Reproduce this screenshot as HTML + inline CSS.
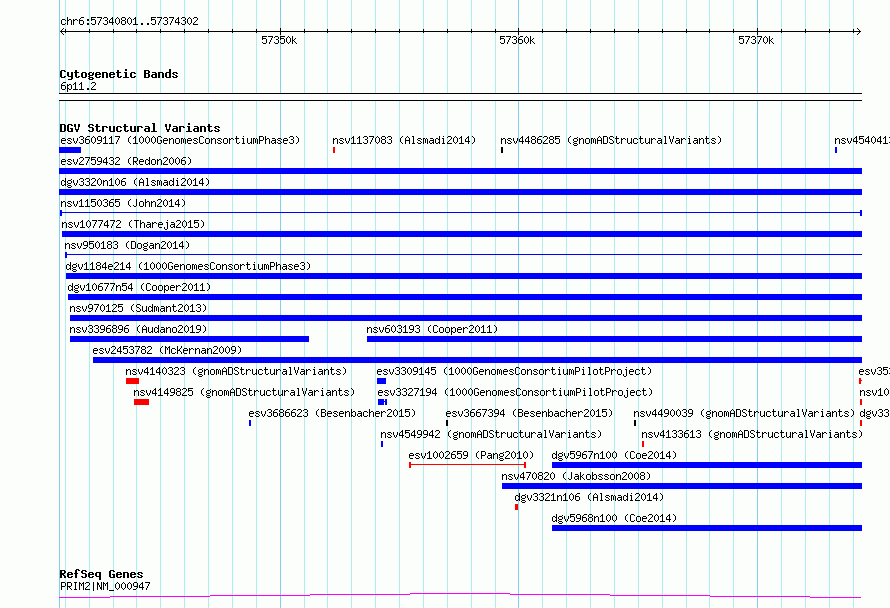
<!DOCTYPE html>
<html lang="en">
<head>
<meta charset="utf-8">
<title>chr6:57340801..57374302</title>
<style>
html,body{margin:0;padding:0;background:#fcfefb;overflow:hidden}
body{width:890px;height:608px;font-family:"Liberation Mono",monospace}
svg{display:block;position:absolute;left:0;top:0}
svg text{font-family:"Liberation Mono",monospace;fill:#000;fill-opacity:0;white-space:pre}
</style>
</head>
<body>
<svg role="img" aria-label="Genome browser view of chr6:57340801..57374302" width="890" height="608" viewBox="0 0 890 608" shape-rendering="crispEdges">
<defs>
<path id="s40" d="M3 3h1v1h-1zM2 4h1v1h-1zM1 5h1v1h-1zM1 6h1v1h-1zM1 7h1v1h-1zM1 8h1v1h-1zM2 9h1v1h-1zM3 10h1v1h-1z"/>
<path id="s41" d="M1 3h1v1h-1zM2 4h1v1h-1zM3 5h1v1h-1zM3 6h1v1h-1zM3 7h1v1h-1zM3 8h1v1h-1zM2 9h1v1h-1zM1 10h1v1h-1z"/>
<path id="s46" d="M2 9h2v1h-2zM2 10h2v1h-2z"/>
<path id="s48" d="M2 3h1v1h-1zM1 4h1v1h-1zM3 4h1v1h-1zM0 5h1v1h-1zM4 5h1v1h-1zM0 6h1v1h-1zM4 6h1v1h-1zM0 7h1v1h-1zM4 7h1v1h-1zM0 8h1v1h-1zM4 8h1v1h-1zM1 9h1v1h-1zM3 9h1v1h-1zM2 10h1v1h-1z"/>
<path id="s49" d="M2 3h1v1h-1zM1 4h2v1h-2zM0 5h1v1h-1zM2 5h1v1h-1zM2 6h1v1h-1zM2 7h1v1h-1zM2 8h1v1h-1zM2 9h1v1h-1zM0 10h5v1h-5z"/>
<path id="s50" d="M1 3h3v1h-3zM0 4h1v1h-1zM4 4h1v1h-1zM4 5h1v1h-1zM3 6h1v1h-1zM2 7h1v1h-1zM1 8h1v1h-1zM0 9h1v1h-1zM0 10h5v1h-5z"/>
<path id="s51" d="M1 3h3v1h-3zM0 4h1v1h-1zM4 4h1v1h-1zM4 5h1v1h-1zM2 6h2v1h-2zM4 7h1v1h-1zM4 8h1v1h-1zM0 9h1v1h-1zM4 9h1v1h-1zM1 10h3v1h-3z"/>
<path id="s52" d="M3 3h1v1h-1zM2 4h2v1h-2zM1 5h1v1h-1zM3 5h1v1h-1zM0 6h1v1h-1zM3 6h1v1h-1zM0 7h1v1h-1zM3 7h1v1h-1zM0 8h5v1h-5zM3 9h1v1h-1zM3 10h1v1h-1z"/>
<path id="s53" d="M0 3h5v1h-5zM0 4h1v1h-1zM0 5h4v1h-4zM0 6h1v1h-1zM4 6h1v1h-1zM4 7h1v1h-1zM4 8h1v1h-1zM0 9h1v1h-1zM4 9h1v1h-1zM1 10h3v1h-3z"/>
<path id="s54" d="M2 3h3v1h-3zM1 4h1v1h-1zM0 5h1v1h-1zM0 6h4v1h-4zM0 7h1v1h-1zM4 7h1v1h-1zM0 8h1v1h-1zM4 8h1v1h-1zM0 9h1v1h-1zM4 9h1v1h-1zM1 10h3v1h-3z"/>
<path id="s55" d="M0 3h5v1h-5zM4 4h1v1h-1zM3 5h1v1h-1zM3 6h1v1h-1zM2 7h1v1h-1zM2 8h1v1h-1zM1 9h1v1h-1zM1 10h1v1h-1z"/>
<path id="s56" d="M1 3h3v1h-3zM0 4h1v1h-1zM4 4h1v1h-1zM0 5h1v1h-1zM4 5h1v1h-1zM1 6h3v1h-3zM0 7h1v1h-1zM4 7h1v1h-1zM0 8h1v1h-1zM4 8h1v1h-1zM0 9h1v1h-1zM4 9h1v1h-1zM1 10h3v1h-3z"/>
<path id="s57" d="M1 3h3v1h-3zM0 4h1v1h-1zM4 4h1v1h-1zM0 5h1v1h-1zM4 5h1v1h-1zM0 6h1v1h-1zM4 6h1v1h-1zM1 7h4v1h-4zM4 8h1v1h-1zM3 9h1v1h-1zM0 10h3v1h-3z"/>
<path id="s58" d="M2 5h2v1h-2zM2 6h2v1h-2zM2 9h2v1h-2zM2 10h2v1h-2z"/>
<path id="s65" d="M2 3h1v1h-1zM1 4h1v1h-1zM3 4h1v1h-1zM0 5h1v1h-1zM4 5h1v1h-1zM0 6h1v1h-1zM4 6h1v1h-1zM0 7h5v1h-5zM0 8h1v1h-1zM4 8h1v1h-1zM0 9h1v1h-1zM4 9h1v1h-1zM0 10h1v1h-1zM4 10h1v1h-1z"/>
<path id="s66" d="M0 3h4v1h-4zM0 4h1v1h-1zM4 4h1v1h-1zM0 5h1v1h-1zM4 5h1v1h-1zM0 6h4v1h-4zM0 7h1v1h-1zM4 7h1v1h-1zM0 8h1v1h-1zM4 8h1v1h-1zM0 9h1v1h-1zM4 9h1v1h-1zM0 10h4v1h-4z"/>
<path id="s67" d="M1 3h3v1h-3zM0 4h1v1h-1zM4 4h1v1h-1zM0 5h1v1h-1zM0 6h1v1h-1zM0 7h1v1h-1zM0 8h1v1h-1zM0 9h1v1h-1zM4 9h1v1h-1zM1 10h3v1h-3z"/>
<path id="s68" d="M0 3h4v1h-4zM0 4h1v1h-1zM4 4h1v1h-1zM0 5h1v1h-1zM4 5h1v1h-1zM0 6h1v1h-1zM4 6h1v1h-1zM0 7h1v1h-1zM4 7h1v1h-1zM0 8h1v1h-1zM4 8h1v1h-1zM0 9h1v1h-1zM4 9h1v1h-1zM0 10h4v1h-4z"/>
<path id="s71" d="M1 3h3v1h-3zM0 4h1v1h-1zM4 4h1v1h-1zM0 5h1v1h-1zM0 6h1v1h-1zM0 7h1v1h-1zM3 7h2v1h-2zM0 8h1v1h-1zM4 8h1v1h-1zM0 9h1v1h-1zM4 9h1v1h-1zM1 10h3v1h-3z"/>
<path id="s73" d="M1 3h3v1h-3zM2 4h1v1h-1zM2 5h1v1h-1zM2 6h1v1h-1zM2 7h1v1h-1zM2 8h1v1h-1zM2 9h1v1h-1zM1 10h3v1h-3z"/>
<path id="s74" d="M3 3h1v1h-1zM3 4h1v1h-1zM3 5h1v1h-1zM3 6h1v1h-1zM3 7h1v1h-1zM3 8h1v1h-1zM0 9h1v1h-1zM3 9h1v1h-1zM1 10h2v1h-2z"/>
<path id="s75" d="M0 3h1v1h-1zM4 3h1v1h-1zM0 4h1v1h-1zM4 4h1v1h-1zM0 5h1v1h-1zM3 5h1v1h-1zM0 6h1v1h-1zM2 6h1v1h-1zM0 7h3v1h-3zM0 8h1v1h-1zM3 8h1v1h-1zM0 9h1v1h-1zM4 9h1v1h-1zM0 10h1v1h-1zM4 10h1v1h-1z"/>
<path id="s77" d="M0 3h1v1h-1zM4 3h1v1h-1zM0 4h2v1h-2zM3 4h2v1h-2zM0 5h1v1h-1zM2 5h1v1h-1zM4 5h1v1h-1zM0 6h1v1h-1zM2 6h1v1h-1zM4 6h1v1h-1zM0 7h1v1h-1zM4 7h1v1h-1zM0 8h1v1h-1zM4 8h1v1h-1zM0 9h1v1h-1zM4 9h1v1h-1zM0 10h1v1h-1zM4 10h1v1h-1z"/>
<path id="s78" d="M0 3h1v1h-1zM4 3h1v1h-1zM0 4h2v1h-2zM4 4h1v1h-1zM0 5h2v1h-2zM4 5h1v1h-1zM0 6h1v1h-1zM2 6h1v1h-1zM4 6h1v1h-1zM0 7h1v1h-1zM2 7h1v1h-1zM4 7h1v1h-1zM0 8h1v1h-1zM3 8h2v1h-2zM0 9h1v1h-1zM3 9h2v1h-2zM0 10h1v1h-1zM4 10h1v1h-1z"/>
<path id="s80" d="M0 3h4v1h-4zM0 4h1v1h-1zM4 4h1v1h-1zM0 5h1v1h-1zM4 5h1v1h-1zM0 6h1v1h-1zM4 6h1v1h-1zM0 7h4v1h-4zM0 8h1v1h-1zM0 9h1v1h-1zM0 10h1v1h-1z"/>
<path id="s82" d="M0 3h4v1h-4zM0 4h1v1h-1zM4 4h1v1h-1zM0 5h1v1h-1zM4 5h1v1h-1zM0 6h1v1h-1zM4 6h1v1h-1zM0 7h4v1h-4zM0 8h1v1h-1zM2 8h1v1h-1zM0 9h1v1h-1zM3 9h1v1h-1zM0 10h1v1h-1zM4 10h1v1h-1z"/>
<path id="s83" d="M1 3h3v1h-3zM0 4h1v1h-1zM4 4h1v1h-1zM0 5h1v1h-1zM1 6h2v1h-2zM3 7h1v1h-1zM4 8h1v1h-1zM0 9h1v1h-1zM4 9h1v1h-1zM1 10h3v1h-3z"/>
<path id="s84" d="M0 3h5v1h-5zM2 4h1v1h-1zM2 5h1v1h-1zM2 6h1v1h-1zM2 7h1v1h-1zM2 8h1v1h-1zM2 9h1v1h-1zM2 10h1v1h-1z"/>
<path id="s86" d="M0 3h1v1h-1zM4 3h1v1h-1zM0 4h1v1h-1zM4 4h1v1h-1zM0 5h1v1h-1zM4 5h1v1h-1zM1 6h1v1h-1zM3 6h1v1h-1zM1 7h1v1h-1zM3 7h1v1h-1zM1 8h1v1h-1zM3 8h1v1h-1zM2 9h1v1h-1zM2 10h1v1h-1z"/>
<path id="s95" d="M0 11h5v1h-5z"/>
<path id="s97" d="M1 5h3v1h-3zM4 6h1v1h-1zM1 7h4v1h-4zM0 8h1v1h-1zM4 8h1v1h-1zM0 9h1v1h-1zM3 9h2v1h-2zM1 10h2v1h-2zM4 10h1v1h-1z"/>
<path id="s98" d="M0 3h1v1h-1zM0 4h1v1h-1zM0 5h1v1h-1zM2 5h2v1h-2zM0 6h2v1h-2zM4 6h1v1h-1zM0 7h1v1h-1zM4 7h1v1h-1zM0 8h1v1h-1zM4 8h1v1h-1zM0 9h2v1h-2zM4 9h1v1h-1zM0 10h1v1h-1zM2 10h2v1h-2z"/>
<path id="s99" d="M1 5h3v1h-3zM0 6h1v1h-1zM4 6h1v1h-1zM0 7h1v1h-1zM0 8h1v1h-1zM0 9h1v1h-1zM4 9h1v1h-1zM1 10h3v1h-3z"/>
<path id="s100" d="M4 3h1v1h-1zM4 4h1v1h-1zM1 5h2v1h-2zM4 5h1v1h-1zM0 6h1v1h-1zM3 6h2v1h-2zM0 7h1v1h-1zM4 7h1v1h-1zM0 8h1v1h-1zM4 8h1v1h-1zM0 9h1v1h-1zM3 9h2v1h-2zM1 10h2v1h-2zM4 10h1v1h-1z"/>
<path id="s101" d="M1 5h3v1h-3zM0 6h1v1h-1zM4 6h1v1h-1zM0 7h5v1h-5zM0 8h1v1h-1zM0 9h1v1h-1zM1 10h3v1h-3z"/>
<path id="s103" d="M4 4h1v1h-1zM1 5h3v1h-3zM0 6h1v1h-1zM4 6h1v1h-1zM0 7h1v1h-1zM4 7h1v1h-1zM1 8h3v1h-3zM0 9h1v1h-1zM1 10h3v1h-3zM0 11h1v1h-1zM4 11h1v1h-1zM1 12h3v1h-3z"/>
<path id="s104" d="M0 3h1v1h-1zM0 4h1v1h-1zM0 5h1v1h-1zM2 5h2v1h-2zM0 6h2v1h-2zM4 6h1v1h-1zM0 7h1v1h-1zM4 7h1v1h-1zM0 8h1v1h-1zM4 8h1v1h-1zM0 9h1v1h-1zM4 9h1v1h-1zM0 10h1v1h-1zM4 10h1v1h-1z"/>
<path id="s105" d="M2 3h1v1h-1zM1 5h2v1h-2zM2 6h1v1h-1zM2 7h1v1h-1zM2 8h1v1h-1zM2 9h1v1h-1zM1 10h3v1h-3z"/>
<path id="s106" d="M3 3h1v1h-1zM2 5h2v1h-2zM3 6h1v1h-1zM3 7h1v1h-1zM3 8h1v1h-1zM3 9h1v1h-1zM0 10h1v1h-1zM3 10h1v1h-1zM0 11h1v1h-1zM3 11h1v1h-1zM1 12h2v1h-2z"/>
<path id="s107" d="M0 3h1v1h-1zM0 4h1v1h-1zM0 5h1v1h-1zM3 5h1v1h-1zM0 6h1v1h-1zM2 6h1v1h-1zM0 7h2v1h-2zM0 8h1v1h-1zM2 8h1v1h-1zM0 9h1v1h-1zM3 9h1v1h-1zM0 10h1v1h-1zM4 10h1v1h-1z"/>
<path id="s108" d="M1 3h2v1h-2zM2 4h1v1h-1zM2 5h1v1h-1zM2 6h1v1h-1zM2 7h1v1h-1zM2 8h1v1h-1zM2 9h1v1h-1zM1 10h3v1h-3z"/>
<path id="s109" d="M0 5h2v1h-2zM3 5h1v1h-1zM0 6h1v1h-1zM2 6h1v1h-1zM4 6h1v1h-1zM0 7h1v1h-1zM2 7h1v1h-1zM4 7h1v1h-1zM0 8h1v1h-1zM2 8h1v1h-1zM4 8h1v1h-1zM0 9h1v1h-1zM2 9h1v1h-1zM4 9h1v1h-1zM0 10h1v1h-1zM4 10h1v1h-1z"/>
<path id="s110" d="M0 5h1v1h-1zM2 5h2v1h-2zM0 6h2v1h-2zM4 6h1v1h-1zM0 7h1v1h-1zM4 7h1v1h-1zM0 8h1v1h-1zM4 8h1v1h-1zM0 9h1v1h-1zM4 9h1v1h-1zM0 10h1v1h-1zM4 10h1v1h-1z"/>
<path id="s111" d="M1 5h3v1h-3zM0 6h1v1h-1zM4 6h1v1h-1zM0 7h1v1h-1zM4 7h1v1h-1zM0 8h1v1h-1zM4 8h1v1h-1zM0 9h1v1h-1zM4 9h1v1h-1zM1 10h3v1h-3z"/>
<path id="s112" d="M0 5h1v1h-1zM2 5h2v1h-2zM0 6h2v1h-2zM4 6h1v1h-1zM0 7h1v1h-1zM4 7h1v1h-1zM0 8h1v1h-1zM4 8h1v1h-1zM0 9h2v1h-2zM4 9h1v1h-1zM0 10h1v1h-1zM2 10h2v1h-2zM0 11h1v1h-1zM0 12h1v1h-1z"/>
<path id="s114" d="M0 5h1v1h-1zM2 5h2v1h-2zM0 6h2v1h-2zM4 6h1v1h-1zM0 7h1v1h-1zM0 8h1v1h-1zM0 9h1v1h-1zM0 10h1v1h-1z"/>
<path id="s115" d="M1 5h3v1h-3zM0 6h1v1h-1zM4 6h1v1h-1zM1 7h2v1h-2zM3 8h1v1h-1zM0 9h1v1h-1zM4 9h1v1h-1zM1 10h3v1h-3z"/>
<path id="s116" d="M1 3h1v1h-1zM1 4h1v1h-1zM0 5h4v1h-4zM1 6h1v1h-1zM1 7h1v1h-1zM1 8h1v1h-1zM1 9h1v1h-1zM4 9h1v1h-1zM2 10h2v1h-2z"/>
<path id="s117" d="M0 5h1v1h-1zM4 5h1v1h-1zM0 6h1v1h-1zM4 6h1v1h-1zM0 7h1v1h-1zM4 7h1v1h-1zM0 8h1v1h-1zM4 8h1v1h-1zM0 9h1v1h-1zM3 9h2v1h-2zM1 10h2v1h-2zM4 10h1v1h-1z"/>
<path id="s118" d="M0 5h1v1h-1zM4 5h1v1h-1zM0 6h1v1h-1zM4 6h1v1h-1zM0 7h1v1h-1zM4 7h1v1h-1zM1 8h1v1h-1zM3 8h1v1h-1zM1 9h1v1h-1zM3 9h1v1h-1zM2 10h1v1h-1z"/>
<path id="s124" d="M2 3h1v1h-1zM2 4h1v1h-1zM2 5h1v1h-1zM2 6h1v1h-1zM2 7h1v1h-1zM2 8h1v1h-1zM2 9h1v1h-1zM2 10h1v1h-1zM2 11h1v1h-1z"/>
<path id="b66" d="M0 3h5v1h-5zM0 4h2v1h-2zM4 4h2v1h-2zM0 5h2v1h-2zM4 5h2v1h-2zM0 6h5v1h-5zM0 7h2v1h-2zM4 7h2v1h-2zM0 8h2v1h-2zM4 8h2v1h-2zM0 9h2v1h-2zM4 9h2v1h-2zM0 10h5v1h-5z"/>
<path id="b67" d="M1 3h4v1h-4zM0 4h2v1h-2zM4 4h2v1h-2zM0 5h2v1h-2zM0 6h2v1h-2zM0 7h2v1h-2zM0 8h2v1h-2zM0 9h2v1h-2zM4 9h2v1h-2zM1 10h4v1h-4z"/>
<path id="b68" d="M0 3h5v1h-5zM0 4h2v1h-2zM4 4h2v1h-2zM0 5h2v1h-2zM4 5h2v1h-2zM0 6h2v1h-2zM4 6h2v1h-2zM0 7h2v1h-2zM4 7h2v1h-2zM0 8h2v1h-2zM4 8h2v1h-2zM0 9h2v1h-2zM4 9h2v1h-2zM0 10h5v1h-5z"/>
<path id="b71" d="M1 3h4v1h-4zM0 4h2v1h-2zM4 4h2v1h-2zM0 5h2v1h-2zM0 6h2v1h-2zM0 7h2v1h-2zM3 7h3v1h-3zM0 8h2v1h-2zM4 8h2v1h-2zM0 9h2v1h-2zM4 9h2v1h-2zM1 10h5v1h-5z"/>
<path id="b82" d="M0 3h5v1h-5zM0 4h2v1h-2zM4 4h2v1h-2zM0 5h2v1h-2zM4 5h2v1h-2zM0 6h5v1h-5zM0 7h4v1h-4zM0 8h2v1h-2zM3 8h2v1h-2zM0 9h2v1h-2zM4 9h2v1h-2zM0 10h2v1h-2zM4 10h2v1h-2z"/>
<path id="b83" d="M1 3h4v1h-4zM0 4h2v1h-2zM4 4h2v1h-2zM0 5h2v1h-2zM1 6h4v1h-4zM4 7h2v1h-2zM4 8h2v1h-2zM0 9h2v1h-2zM4 9h2v1h-2zM1 10h4v1h-4z"/>
<path id="b86" d="M0 3h2v1h-2zM4 3h2v1h-2zM0 4h2v1h-2zM4 4h2v1h-2zM0 5h2v1h-2zM4 5h2v1h-2zM1 6h1v1h-1zM4 6h1v1h-1zM1 7h1v1h-1zM4 7h1v1h-1zM1 8h4v1h-4zM2 9h2v1h-2zM2 10h2v1h-2z"/>
<path id="b97" d="M1 5h4v1h-4zM4 6h2v1h-2zM1 7h5v1h-5zM0 8h2v1h-2zM4 8h2v1h-2zM0 9h2v1h-2zM4 9h2v1h-2zM1 10h5v1h-5z"/>
<path id="b99" d="M1 5h4v1h-4zM0 6h2v1h-2zM4 6h2v1h-2zM0 7h2v1h-2zM0 8h2v1h-2zM0 9h2v1h-2zM4 9h2v1h-2zM1 10h4v1h-4z"/>
<path id="b100" d="M4 2h2v1h-2zM4 3h2v1h-2zM4 4h2v1h-2zM1 5h5v1h-5zM0 6h2v1h-2zM4 6h2v1h-2zM0 7h2v1h-2zM4 7h2v1h-2zM0 8h2v1h-2zM4 8h2v1h-2zM0 9h2v1h-2zM4 9h2v1h-2zM1 10h5v1h-5z"/>
<path id="b101" d="M1 5h4v1h-4zM0 6h2v1h-2zM4 6h2v1h-2zM0 7h6v1h-6zM0 8h2v1h-2zM0 9h2v1h-2zM4 9h2v1h-2zM1 10h4v1h-4z"/>
<path id="b102" d="M2 2h3v1h-3zM1 3h2v1h-2zM4 3h2v1h-2zM1 4h2v1h-2zM1 5h2v1h-2zM0 6h4v1h-4zM1 7h2v1h-2zM1 8h2v1h-2zM1 9h2v1h-2zM1 10h2v1h-2z"/>
<path id="b103" d="M1 5h3v1h-3zM5 5h1v1h-1zM0 6h2v1h-2zM4 6h2v1h-2zM0 7h2v1h-2zM4 7h2v1h-2zM1 8h4v1h-4zM0 9h2v1h-2zM1 10h4v1h-4zM0 11h2v1h-2zM4 11h2v1h-2zM1 12h4v1h-4z"/>
<path id="b105" d="M2 2h2v1h-2zM2 3h2v1h-2zM1 5h3v1h-3zM2 6h2v1h-2zM2 7h2v1h-2zM2 8h2v1h-2zM2 9h2v1h-2zM0 10h6v1h-6z"/>
<path id="b108" d="M1 2h3v1h-3zM2 3h2v1h-2zM2 4h2v1h-2zM2 5h2v1h-2zM2 6h2v1h-2zM2 7h2v1h-2zM2 8h2v1h-2zM2 9h2v1h-2zM0 10h6v1h-6z"/>
<path id="b110" d="M0 5h5v1h-5zM0 6h2v1h-2zM4 6h2v1h-2zM0 7h2v1h-2zM4 7h2v1h-2zM0 8h2v1h-2zM4 8h2v1h-2zM0 9h2v1h-2zM4 9h2v1h-2zM0 10h2v1h-2zM4 10h2v1h-2z"/>
<path id="b111" d="M1 5h4v1h-4zM0 6h2v1h-2zM4 6h2v1h-2zM0 7h2v1h-2zM4 7h2v1h-2zM0 8h2v1h-2zM4 8h2v1h-2zM0 9h2v1h-2zM4 9h2v1h-2zM1 10h4v1h-4z"/>
<path id="b113" d="M1 5h5v1h-5zM0 6h2v1h-2zM4 6h2v1h-2zM0 7h2v1h-2zM4 7h2v1h-2zM0 8h2v1h-2zM4 8h2v1h-2zM1 9h5v1h-5zM4 10h2v1h-2zM4 11h2v1h-2zM4 12h2v1h-2z"/>
<path id="b114" d="M0 5h5v1h-5zM0 6h2v1h-2zM4 6h2v1h-2zM0 7h2v1h-2zM0 8h2v1h-2zM0 9h2v1h-2zM0 10h2v1h-2z"/>
<path id="b115" d="M1 5h4v1h-4zM0 6h2v1h-2zM4 6h2v1h-2zM1 7h2v1h-2zM3 8h2v1h-2zM0 9h2v1h-2zM4 9h2v1h-2zM1 10h4v1h-4z"/>
<path id="b116" d="M1 3h2v1h-2zM1 4h2v1h-2zM0 5h5v1h-5zM1 6h2v1h-2zM1 7h2v1h-2zM1 8h2v1h-2zM1 9h2v1h-2zM4 9h2v1h-2zM2 10h3v1h-3z"/>
<path id="b117" d="M0 5h2v1h-2zM4 5h2v1h-2zM0 6h2v1h-2zM4 6h2v1h-2zM0 7h2v1h-2zM4 7h2v1h-2zM0 8h2v1h-2zM4 8h2v1h-2zM0 9h2v1h-2zM4 9h2v1h-2zM1 10h5v1h-5z"/>
<path id="b121" d="M0 5h2v1h-2zM4 5h2v1h-2zM0 6h2v1h-2zM4 6h2v1h-2zM0 7h2v1h-2zM4 7h2v1h-2zM0 8h2v1h-2zM4 8h2v1h-2zM1 9h5v1h-5zM4 10h2v1h-2zM4 11h2v1h-2zM1 12h4v1h-4z"/>
</defs>
<rect x="0" y="0" width="890" height="608" fill="#fcfefb"/>
<g id="shapes">
<rect x="59" y="0" width="1" height="608" fill="#87ceeb"/>
<rect x="65" y="0" width="1" height="608" fill="#afeeee"/>
<rect x="89" y="0" width="1" height="608" fill="#afeeee"/>
<rect x="113" y="0" width="1" height="608" fill="#afeeee"/>
<rect x="136" y="0" width="1" height="608" fill="#afeeee"/>
<rect x="160" y="0" width="1" height="608" fill="#afeeee"/>
<rect x="184" y="0" width="1" height="608" fill="#afeeee"/>
<rect x="208" y="0" width="1" height="608" fill="#afeeee"/>
<rect x="232" y="0" width="1" height="608" fill="#afeeee"/>
<rect x="256" y="0" width="1" height="608" fill="#afeeee"/>
<rect x="280" y="0" width="1" height="608" fill="#87ceeb"/>
<rect x="304" y="0" width="1" height="608" fill="#afeeee"/>
<rect x="327" y="0" width="1" height="608" fill="#afeeee"/>
<rect x="351" y="0" width="1" height="608" fill="#afeeee"/>
<rect x="375" y="0" width="1" height="608" fill="#afeeee"/>
<rect x="399" y="0" width="1" height="608" fill="#afeeee"/>
<rect x="423" y="0" width="1" height="608" fill="#afeeee"/>
<rect x="447" y="0" width="1" height="608" fill="#afeeee"/>
<rect x="471" y="0" width="1" height="608" fill="#afeeee"/>
<rect x="495" y="0" width="1" height="608" fill="#afeeee"/>
<rect x="518" y="0" width="1" height="608" fill="#87ceeb"/>
<rect x="542" y="0" width="1" height="608" fill="#afeeee"/>
<rect x="566" y="0" width="1" height="608" fill="#afeeee"/>
<rect x="590" y="0" width="1" height="608" fill="#afeeee"/>
<rect x="614" y="0" width="1" height="608" fill="#afeeee"/>
<rect x="638" y="0" width="1" height="608" fill="#afeeee"/>
<rect x="662" y="0" width="1" height="608" fill="#afeeee"/>
<rect x="686" y="0" width="1" height="608" fill="#afeeee"/>
<rect x="709" y="0" width="1" height="608" fill="#afeeee"/>
<rect x="733" y="0" width="1" height="608" fill="#afeeee"/>
<rect x="757" y="0" width="1" height="608" fill="#87ceeb"/>
<rect x="781" y="0" width="1" height="608" fill="#afeeee"/>
<rect x="805" y="0" width="1" height="608" fill="#afeeee"/>
<rect x="829" y="0" width="1" height="608" fill="#afeeee"/>
<rect x="853" y="0" width="1" height="608" fill="#afeeee"/>
<rect x="60" y="31" width="801" height="1" fill="#000000"/>
<rect x="61" y="30" width="1" height="1" fill="#000000"/>
<rect x="61" y="32" width="1" height="1" fill="#000000"/>
<rect x="859" y="30" width="1" height="1" fill="#000000"/>
<rect x="859" y="32" width="1" height="1" fill="#000000"/>
<rect x="62" y="29" width="1" height="1" fill="#000000"/>
<rect x="62" y="33" width="1" height="1" fill="#000000"/>
<rect x="858" y="29" width="1" height="1" fill="#000000"/>
<rect x="858" y="33" width="1" height="1" fill="#000000"/>
<rect x="63" y="28" width="1" height="1" fill="#000000"/>
<rect x="63" y="34" width="1" height="1" fill="#000000"/>
<rect x="857" y="28" width="1" height="1" fill="#000000"/>
<rect x="857" y="34" width="1" height="1" fill="#000000"/>
<rect x="65" y="29" width="1" height="4" fill="#000000"/>
<rect x="89" y="29" width="1" height="4" fill="#000000"/>
<rect x="113" y="29" width="1" height="4" fill="#000000"/>
<rect x="136" y="29" width="1" height="4" fill="#000000"/>
<rect x="160" y="29" width="1" height="4" fill="#000000"/>
<rect x="184" y="29" width="1" height="4" fill="#000000"/>
<rect x="208" y="29" width="1" height="4" fill="#000000"/>
<rect x="232" y="29" width="1" height="4" fill="#000000"/>
<rect x="256" y="29" width="1" height="4" fill="#000000"/>
<rect x="280" y="28" width="1" height="7" fill="#000000"/>
<rect x="304" y="29" width="1" height="4" fill="#000000"/>
<rect x="327" y="29" width="1" height="4" fill="#000000"/>
<rect x="351" y="29" width="1" height="4" fill="#000000"/>
<rect x="375" y="29" width="1" height="4" fill="#000000"/>
<rect x="399" y="29" width="1" height="4" fill="#000000"/>
<rect x="423" y="29" width="1" height="4" fill="#000000"/>
<rect x="447" y="29" width="1" height="4" fill="#000000"/>
<rect x="471" y="29" width="1" height="4" fill="#000000"/>
<rect x="495" y="29" width="1" height="4" fill="#000000"/>
<rect x="518" y="28" width="1" height="7" fill="#000000"/>
<rect x="542" y="29" width="1" height="4" fill="#000000"/>
<rect x="566" y="29" width="1" height="4" fill="#000000"/>
<rect x="590" y="29" width="1" height="4" fill="#000000"/>
<rect x="614" y="29" width="1" height="4" fill="#000000"/>
<rect x="638" y="29" width="1" height="4" fill="#000000"/>
<rect x="662" y="29" width="1" height="4" fill="#000000"/>
<rect x="686" y="29" width="1" height="4" fill="#000000"/>
<rect x="709" y="29" width="1" height="4" fill="#000000"/>
<rect x="733" y="29" width="1" height="4" fill="#000000"/>
<rect x="757" y="28" width="1" height="7" fill="#000000"/>
<rect x="781" y="29" width="1" height="4" fill="#000000"/>
<rect x="805" y="29" width="1" height="4" fill="#000000"/>
<rect x="829" y="29" width="1" height="4" fill="#000000"/>
<rect x="853" y="29" width="1" height="4" fill="#000000"/>
<rect x="59" y="93" width="803" height="8" fill="#000000"/>
<rect x="59" y="94" width="803" height="6" fill="#ffffff"/>
<rect x="59" y="147" width="22" height="6" fill="#0000ff"/>
<rect x="333" y="147" width="2" height="6" fill="#ff0000"/>
<rect x="501" y="147" width="2" height="6" fill="#000000"/>
<rect x="835" y="147" width="2" height="6" fill="#0000ff"/>
<rect x="59" y="168" width="803" height="6" fill="#0000ff"/>
<rect x="59" y="189" width="803" height="6" fill="#0000ff"/>
<rect x="60" y="212" width="802" height="1" fill="#0000ff"/>
<rect x="60" y="210" width="2" height="6" fill="#0000ff"/>
<rect x="860" y="210" width="2" height="6" fill="#0000ff"/>
<rect x="62" y="231" width="800" height="6" fill="#0000ff"/>
<rect x="65" y="254" width="797" height="1" fill="#0000ff"/>
<rect x="65" y="252" width="2" height="6" fill="#0000ff"/>
<rect x="66" y="273" width="796" height="6" fill="#0000ff"/>
<rect x="68" y="294" width="794" height="6" fill="#0000ff"/>
<rect x="70" y="315" width="792" height="6" fill="#0000ff"/>
<rect x="70" y="336" width="239" height="6" fill="#0000ff"/>
<rect x="367" y="336" width="495" height="6" fill="#0000ff"/>
<rect x="93" y="357" width="769" height="6" fill="#0000ff"/>
<rect x="126" y="378" width="13" height="6" fill="#ff0000"/>
<rect x="377" y="378" width="9" height="6" fill="#0000ff"/>
<rect x="859" y="380" width="3" height="1" fill="#ff0000"/>
<rect x="859" y="378" width="2" height="6" fill="#ff0000"/>
<rect x="134" y="399" width="15" height="6" fill="#ff0000"/>
<rect x="378" y="399" width="6" height="6" fill="#0000ff"/>
<rect x="385" y="399" width="2" height="6" fill="#0000ff"/>
<rect x="384" y="401" width="1" height="1" fill="#0000ff"/>
<rect x="860" y="399" width="2" height="6" fill="#ff0000"/>
<rect x="249" y="420" width="2" height="6" fill="#0000ff"/>
<rect x="446" y="420" width="2" height="6" fill="#000000"/>
<rect x="634" y="420" width="2" height="6" fill="#000000"/>
<rect x="860" y="420" width="2" height="6" fill="#ff0000"/>
<rect x="381" y="441" width="2" height="6" fill="#0000ff"/>
<rect x="642" y="441" width="2" height="6" fill="#ff0000"/>
<rect x="409" y="464" width="117" height="1" fill="#ff0000"/>
<rect x="409" y="462" width="2" height="6" fill="#ff0000"/>
<rect x="524" y="462" width="2" height="6" fill="#ff0000"/>
<rect x="552" y="462" width="310" height="6" fill="#0000ff"/>
<rect x="502" y="483" width="360" height="6" fill="#0000ff"/>
<rect x="515" y="504" width="3" height="6" fill="#ff0000"/>
<rect x="552" y="525" width="310" height="6" fill="#0000ff"/>
<rect x="59" y="597" width="51" height="1" fill="#ff00ff"/>
<rect x="110" y="596" width="100" height="1" fill="#ff00ff"/>
<rect x="210" y="595" width="100" height="1" fill="#ff00ff"/>
<rect x="310" y="594" width="100" height="1" fill="#ff00ff"/>
<rect x="410" y="593" width="100" height="1" fill="#ff00ff"/>
<rect x="510" y="594" width="100" height="1" fill="#ff00ff"/>
<rect x="610" y="595" width="100" height="1" fill="#ff00ff"/>
<rect x="710" y="596" width="100" height="1" fill="#ff00ff"/>
<rect x="810" y="597" width="51" height="1" fill="#ff00ff"/>
</g>
<g id="glyphs" fill="#000">
<g transform="translate(61 14)"><use href="#s99" x="0"/><use href="#s104" x="6"/><use href="#s114" x="12"/><use href="#s54" x="18"/><use href="#s58" x="24"/><use href="#s53" x="30"/><use href="#s55" x="36"/><use href="#s51" x="42"/><use href="#s52" x="48"/><use href="#s48" x="54"/><use href="#s56" x="60"/><use href="#s48" x="66"/><use href="#s49" x="72"/><use href="#s46" x="78"/><use href="#s46" x="84"/><use href="#s53" x="90"/><use href="#s55" x="96"/><use href="#s51" x="102"/><use href="#s55" x="108"/><use href="#s52" x="114"/><use href="#s51" x="120"/><use href="#s48" x="126"/><use href="#s50" x="132"/></g>
<g transform="translate(262 33)"><use href="#s53" x="0"/><use href="#s55" x="6"/><use href="#s51" x="12"/><use href="#s53" x="18"/><use href="#s48" x="24"/><use href="#s107" x="30"/></g>
<g transform="translate(500 33)"><use href="#s53" x="0"/><use href="#s55" x="6"/><use href="#s51" x="12"/><use href="#s54" x="18"/><use href="#s48" x="24"/><use href="#s107" x="30"/></g>
<g transform="translate(739 33)"><use href="#s53" x="0"/><use href="#s55" x="6"/><use href="#s51" x="12"/><use href="#s55" x="18"/><use href="#s48" x="24"/><use href="#s107" x="30"/></g>
<g transform="translate(60 67)"><use href="#b67" x="0"/><use href="#b121" x="7"/><use href="#b116" x="14"/><use href="#b111" x="21"/><use href="#b103" x="28"/><use href="#b101" x="35"/><use href="#b110" x="42"/><use href="#b101" x="49"/><use href="#b116" x="56"/><use href="#b105" x="63"/><use href="#b99" x="70"/><use href="#b66" x="84"/><use href="#b97" x="91"/><use href="#b110" x="98"/><use href="#b100" x="105"/><use href="#b115" x="112"/></g>
<g transform="translate(61 79)"><use href="#s54" x="0"/><use href="#s112" x="6"/><use href="#s49" x="12"/><use href="#s49" x="18"/><use href="#s46" x="24"/><use href="#s50" x="30"/></g>
<g transform="translate(60 121)"><use href="#b68" x="0"/><use href="#b71" x="7"/><use href="#b86" x="14"/><use href="#b83" x="28"/><use href="#b116" x="35"/><use href="#b114" x="42"/><use href="#b117" x="49"/><use href="#b99" x="56"/><use href="#b116" x="63"/><use href="#b117" x="70"/><use href="#b114" x="77"/><use href="#b97" x="84"/><use href="#b108" x="91"/><use href="#b86" x="105"/><use href="#b97" x="112"/><use href="#b114" x="119"/><use href="#b105" x="126"/><use href="#b97" x="133"/><use href="#b110" x="140"/><use href="#b116" x="147"/><use href="#b115" x="154"/></g>
<g transform="translate(61 133)"><use href="#s101" x="0"/><use href="#s115" x="6"/><use href="#s118" x="12"/><use href="#s51" x="18"/><use href="#s54" x="24"/><use href="#s48" x="30"/><use href="#s57" x="36"/><use href="#s49" x="42"/><use href="#s49" x="48"/><use href="#s55" x="54"/><use href="#s40" x="66"/><use href="#s49" x="72"/><use href="#s48" x="78"/><use href="#s48" x="84"/><use href="#s48" x="90"/><use href="#s71" x="96"/><use href="#s101" x="102"/><use href="#s110" x="108"/><use href="#s111" x="114"/><use href="#s109" x="120"/><use href="#s101" x="126"/><use href="#s115" x="132"/><use href="#s67" x="138"/><use href="#s111" x="144"/><use href="#s110" x="150"/><use href="#s115" x="156"/><use href="#s111" x="162"/><use href="#s114" x="168"/><use href="#s116" x="174"/><use href="#s105" x="180"/><use href="#s117" x="186"/><use href="#s109" x="192"/><use href="#s80" x="198"/><use href="#s104" x="204"/><use href="#s97" x="210"/><use href="#s115" x="216"/><use href="#s101" x="222"/><use href="#s51" x="228"/><use href="#s41" x="234"/></g>
<g transform="translate(333 133)"><use href="#s110" x="0"/><use href="#s115" x="6"/><use href="#s118" x="12"/><use href="#s49" x="18"/><use href="#s49" x="24"/><use href="#s51" x="30"/><use href="#s55" x="36"/><use href="#s48" x="42"/><use href="#s56" x="48"/><use href="#s51" x="54"/><use href="#s40" x="66"/><use href="#s65" x="72"/><use href="#s108" x="78"/><use href="#s115" x="84"/><use href="#s109" x="90"/><use href="#s97" x="96"/><use href="#s100" x="102"/><use href="#s105" x="108"/><use href="#s50" x="114"/><use href="#s48" x="120"/><use href="#s49" x="126"/><use href="#s52" x="132"/><use href="#s41" x="138"/></g>
<g transform="translate(501 133)"><use href="#s110" x="0"/><use href="#s115" x="6"/><use href="#s118" x="12"/><use href="#s52" x="18"/><use href="#s52" x="24"/><use href="#s56" x="30"/><use href="#s54" x="36"/><use href="#s50" x="42"/><use href="#s56" x="48"/><use href="#s53" x="54"/><use href="#s40" x="66"/><use href="#s103" x="72"/><use href="#s110" x="78"/><use href="#s111" x="84"/><use href="#s109" x="90"/><use href="#s65" x="96"/><use href="#s68" x="102"/><use href="#s83" x="108"/><use href="#s116" x="114"/><use href="#s114" x="120"/><use href="#s117" x="126"/><use href="#s99" x="132"/><use href="#s116" x="138"/><use href="#s117" x="144"/><use href="#s114" x="150"/><use href="#s97" x="156"/><use href="#s108" x="162"/><use href="#s86" x="168"/><use href="#s97" x="174"/><use href="#s114" x="180"/><use href="#s105" x="186"/><use href="#s97" x="192"/><use href="#s110" x="198"/><use href="#s116" x="204"/><use href="#s115" x="210"/><use href="#s41" x="216"/></g>
<g transform="translate(835 133)"><use href="#s110" x="0"/><use href="#s115" x="6"/><use href="#s118" x="12"/><use href="#s52" x="18"/><use href="#s53" x="24"/><use href="#s52" x="30"/><use href="#s48" x="36"/><use href="#s52" x="42"/><use href="#s49" x="48"/><use href="#s51" x="54"/></g>
<g transform="translate(61 154)"><use href="#s101" x="0"/><use href="#s115" x="6"/><use href="#s118" x="12"/><use href="#s50" x="18"/><use href="#s55" x="24"/><use href="#s53" x="30"/><use href="#s57" x="36"/><use href="#s52" x="42"/><use href="#s51" x="48"/><use href="#s50" x="54"/><use href="#s40" x="66"/><use href="#s82" x="72"/><use href="#s101" x="78"/><use href="#s100" x="84"/><use href="#s111" x="90"/><use href="#s110" x="96"/><use href="#s50" x="102"/><use href="#s48" x="108"/><use href="#s48" x="114"/><use href="#s54" x="120"/><use href="#s41" x="126"/></g>
<g transform="translate(61 175)"><use href="#s100" x="0"/><use href="#s103" x="6"/><use href="#s118" x="12"/><use href="#s51" x="18"/><use href="#s51" x="24"/><use href="#s50" x="30"/><use href="#s48" x="36"/><use href="#s110" x="42"/><use href="#s49" x="48"/><use href="#s48" x="54"/><use href="#s54" x="60"/><use href="#s40" x="72"/><use href="#s65" x="78"/><use href="#s108" x="84"/><use href="#s115" x="90"/><use href="#s109" x="96"/><use href="#s97" x="102"/><use href="#s100" x="108"/><use href="#s105" x="114"/><use href="#s50" x="120"/><use href="#s48" x="126"/><use href="#s49" x="132"/><use href="#s52" x="138"/><use href="#s41" x="144"/></g>
<g transform="translate(61 196)"><use href="#s110" x="0"/><use href="#s115" x="6"/><use href="#s118" x="12"/><use href="#s49" x="18"/><use href="#s49" x="24"/><use href="#s53" x="30"/><use href="#s48" x="36"/><use href="#s51" x="42"/><use href="#s54" x="48"/><use href="#s53" x="54"/><use href="#s40" x="66"/><use href="#s74" x="72"/><use href="#s111" x="78"/><use href="#s104" x="84"/><use href="#s110" x="90"/><use href="#s50" x="96"/><use href="#s48" x="102"/><use href="#s49" x="108"/><use href="#s52" x="114"/><use href="#s41" x="120"/></g>
<g transform="translate(62 217)"><use href="#s110" x="0"/><use href="#s115" x="6"/><use href="#s118" x="12"/><use href="#s49" x="18"/><use href="#s48" x="24"/><use href="#s55" x="30"/><use href="#s55" x="36"/><use href="#s52" x="42"/><use href="#s55" x="48"/><use href="#s50" x="54"/><use href="#s40" x="66"/><use href="#s84" x="72"/><use href="#s104" x="78"/><use href="#s97" x="84"/><use href="#s114" x="90"/><use href="#s101" x="96"/><use href="#s106" x="102"/><use href="#s97" x="108"/><use href="#s50" x="114"/><use href="#s48" x="120"/><use href="#s49" x="126"/><use href="#s53" x="132"/><use href="#s41" x="138"/></g>
<g transform="translate(65 238)"><use href="#s110" x="0"/><use href="#s115" x="6"/><use href="#s118" x="12"/><use href="#s57" x="18"/><use href="#s53" x="24"/><use href="#s48" x="30"/><use href="#s49" x="36"/><use href="#s56" x="42"/><use href="#s51" x="48"/><use href="#s40" x="60"/><use href="#s68" x="66"/><use href="#s111" x="72"/><use href="#s103" x="78"/><use href="#s97" x="84"/><use href="#s110" x="90"/><use href="#s50" x="96"/><use href="#s48" x="102"/><use href="#s49" x="108"/><use href="#s52" x="114"/><use href="#s41" x="120"/></g>
<g transform="translate(66 259)"><use href="#s100" x="0"/><use href="#s103" x="6"/><use href="#s118" x="12"/><use href="#s49" x="18"/><use href="#s49" x="24"/><use href="#s56" x="30"/><use href="#s52" x="36"/><use href="#s101" x="42"/><use href="#s50" x="48"/><use href="#s49" x="54"/><use href="#s52" x="60"/><use href="#s40" x="72"/><use href="#s49" x="78"/><use href="#s48" x="84"/><use href="#s48" x="90"/><use href="#s48" x="96"/><use href="#s71" x="102"/><use href="#s101" x="108"/><use href="#s110" x="114"/><use href="#s111" x="120"/><use href="#s109" x="126"/><use href="#s101" x="132"/><use href="#s115" x="138"/><use href="#s67" x="144"/><use href="#s111" x="150"/><use href="#s110" x="156"/><use href="#s115" x="162"/><use href="#s111" x="168"/><use href="#s114" x="174"/><use href="#s116" x="180"/><use href="#s105" x="186"/><use href="#s117" x="192"/><use href="#s109" x="198"/><use href="#s80" x="204"/><use href="#s104" x="210"/><use href="#s97" x="216"/><use href="#s115" x="222"/><use href="#s101" x="228"/><use href="#s51" x="234"/><use href="#s41" x="240"/></g>
<g transform="translate(68 280)"><use href="#s100" x="0"/><use href="#s103" x="6"/><use href="#s118" x="12"/><use href="#s49" x="18"/><use href="#s48" x="24"/><use href="#s54" x="30"/><use href="#s55" x="36"/><use href="#s55" x="42"/><use href="#s110" x="48"/><use href="#s53" x="54"/><use href="#s52" x="60"/><use href="#s40" x="72"/><use href="#s67" x="78"/><use href="#s111" x="84"/><use href="#s111" x="90"/><use href="#s112" x="96"/><use href="#s101" x="102"/><use href="#s114" x="108"/><use href="#s50" x="114"/><use href="#s48" x="120"/><use href="#s49" x="126"/><use href="#s49" x="132"/><use href="#s41" x="138"/></g>
<g transform="translate(70 301)"><use href="#s110" x="0"/><use href="#s115" x="6"/><use href="#s118" x="12"/><use href="#s57" x="18"/><use href="#s55" x="24"/><use href="#s48" x="30"/><use href="#s49" x="36"/><use href="#s50" x="42"/><use href="#s53" x="48"/><use href="#s40" x="60"/><use href="#s83" x="66"/><use href="#s117" x="72"/><use href="#s100" x="78"/><use href="#s109" x="84"/><use href="#s97" x="90"/><use href="#s110" x="96"/><use href="#s116" x="102"/><use href="#s50" x="108"/><use href="#s48" x="114"/><use href="#s49" x="120"/><use href="#s51" x="126"/><use href="#s41" x="132"/></g>
<g transform="translate(70 322)"><use href="#s110" x="0"/><use href="#s115" x="6"/><use href="#s118" x="12"/><use href="#s51" x="18"/><use href="#s51" x="24"/><use href="#s57" x="30"/><use href="#s54" x="36"/><use href="#s56" x="42"/><use href="#s57" x="48"/><use href="#s54" x="54"/><use href="#s40" x="66"/><use href="#s65" x="72"/><use href="#s117" x="78"/><use href="#s100" x="84"/><use href="#s97" x="90"/><use href="#s110" x="96"/><use href="#s111" x="102"/><use href="#s50" x="108"/><use href="#s48" x="114"/><use href="#s49" x="120"/><use href="#s57" x="126"/><use href="#s41" x="132"/></g>
<g transform="translate(367 322)"><use href="#s110" x="0"/><use href="#s115" x="6"/><use href="#s118" x="12"/><use href="#s54" x="18"/><use href="#s48" x="24"/><use href="#s51" x="30"/><use href="#s49" x="36"/><use href="#s57" x="42"/><use href="#s51" x="48"/><use href="#s40" x="60"/><use href="#s67" x="66"/><use href="#s111" x="72"/><use href="#s111" x="78"/><use href="#s112" x="84"/><use href="#s101" x="90"/><use href="#s114" x="96"/><use href="#s50" x="102"/><use href="#s48" x="108"/><use href="#s49" x="114"/><use href="#s49" x="120"/><use href="#s41" x="126"/></g>
<g transform="translate(93 343)"><use href="#s101" x="0"/><use href="#s115" x="6"/><use href="#s118" x="12"/><use href="#s50" x="18"/><use href="#s52" x="24"/><use href="#s53" x="30"/><use href="#s51" x="36"/><use href="#s55" x="42"/><use href="#s56" x="48"/><use href="#s50" x="54"/><use href="#s40" x="66"/><use href="#s77" x="72"/><use href="#s99" x="78"/><use href="#s75" x="84"/><use href="#s101" x="90"/><use href="#s114" x="96"/><use href="#s110" x="102"/><use href="#s97" x="108"/><use href="#s110" x="114"/><use href="#s50" x="120"/><use href="#s48" x="126"/><use href="#s48" x="132"/><use href="#s57" x="138"/><use href="#s41" x="144"/></g>
<g transform="translate(126 364)"><use href="#s110" x="0"/><use href="#s115" x="6"/><use href="#s118" x="12"/><use href="#s52" x="18"/><use href="#s49" x="24"/><use href="#s52" x="30"/><use href="#s48" x="36"/><use href="#s51" x="42"/><use href="#s50" x="48"/><use href="#s51" x="54"/><use href="#s40" x="66"/><use href="#s103" x="72"/><use href="#s110" x="78"/><use href="#s111" x="84"/><use href="#s109" x="90"/><use href="#s65" x="96"/><use href="#s68" x="102"/><use href="#s83" x="108"/><use href="#s116" x="114"/><use href="#s114" x="120"/><use href="#s117" x="126"/><use href="#s99" x="132"/><use href="#s116" x="138"/><use href="#s117" x="144"/><use href="#s114" x="150"/><use href="#s97" x="156"/><use href="#s108" x="162"/><use href="#s86" x="168"/><use href="#s97" x="174"/><use href="#s114" x="180"/><use href="#s105" x="186"/><use href="#s97" x="192"/><use href="#s110" x="198"/><use href="#s116" x="204"/><use href="#s115" x="210"/><use href="#s41" x="216"/></g>
<g transform="translate(377 364)"><use href="#s101" x="0"/><use href="#s115" x="6"/><use href="#s118" x="12"/><use href="#s51" x="18"/><use href="#s51" x="24"/><use href="#s48" x="30"/><use href="#s57" x="36"/><use href="#s49" x="42"/><use href="#s52" x="48"/><use href="#s53" x="54"/><use href="#s40" x="66"/><use href="#s49" x="72"/><use href="#s48" x="78"/><use href="#s48" x="84"/><use href="#s48" x="90"/><use href="#s71" x="96"/><use href="#s101" x="102"/><use href="#s110" x="108"/><use href="#s111" x="114"/><use href="#s109" x="120"/><use href="#s101" x="126"/><use href="#s115" x="132"/><use href="#s67" x="138"/><use href="#s111" x="144"/><use href="#s110" x="150"/><use href="#s115" x="156"/><use href="#s111" x="162"/><use href="#s114" x="168"/><use href="#s116" x="174"/><use href="#s105" x="180"/><use href="#s117" x="186"/><use href="#s109" x="192"/><use href="#s80" x="198"/><use href="#s105" x="204"/><use href="#s108" x="210"/><use href="#s111" x="216"/><use href="#s116" x="222"/><use href="#s80" x="228"/><use href="#s114" x="234"/><use href="#s111" x="240"/><use href="#s106" x="246"/><use href="#s101" x="252"/><use href="#s99" x="258"/><use href="#s116" x="264"/><use href="#s41" x="270"/></g>
<g transform="translate(859 364)"><use href="#s101" x="0"/><use href="#s115" x="6"/><use href="#s118" x="12"/><use href="#s51" x="18"/><use href="#s53" x="24"/><use href="#s51" x="30"/></g>
<g transform="translate(134 385)"><use href="#s110" x="0"/><use href="#s115" x="6"/><use href="#s118" x="12"/><use href="#s52" x="18"/><use href="#s49" x="24"/><use href="#s52" x="30"/><use href="#s57" x="36"/><use href="#s56" x="42"/><use href="#s50" x="48"/><use href="#s53" x="54"/><use href="#s40" x="66"/><use href="#s103" x="72"/><use href="#s110" x="78"/><use href="#s111" x="84"/><use href="#s109" x="90"/><use href="#s65" x="96"/><use href="#s68" x="102"/><use href="#s83" x="108"/><use href="#s116" x="114"/><use href="#s114" x="120"/><use href="#s117" x="126"/><use href="#s99" x="132"/><use href="#s116" x="138"/><use href="#s117" x="144"/><use href="#s114" x="150"/><use href="#s97" x="156"/><use href="#s108" x="162"/><use href="#s86" x="168"/><use href="#s97" x="174"/><use href="#s114" x="180"/><use href="#s105" x="186"/><use href="#s97" x="192"/><use href="#s110" x="198"/><use href="#s116" x="204"/><use href="#s115" x="210"/><use href="#s41" x="216"/></g>
<g transform="translate(378 385)"><use href="#s101" x="0"/><use href="#s115" x="6"/><use href="#s118" x="12"/><use href="#s51" x="18"/><use href="#s51" x="24"/><use href="#s50" x="30"/><use href="#s55" x="36"/><use href="#s49" x="42"/><use href="#s57" x="48"/><use href="#s52" x="54"/><use href="#s40" x="66"/><use href="#s49" x="72"/><use href="#s48" x="78"/><use href="#s48" x="84"/><use href="#s48" x="90"/><use href="#s71" x="96"/><use href="#s101" x="102"/><use href="#s110" x="108"/><use href="#s111" x="114"/><use href="#s109" x="120"/><use href="#s101" x="126"/><use href="#s115" x="132"/><use href="#s67" x="138"/><use href="#s111" x="144"/><use href="#s110" x="150"/><use href="#s115" x="156"/><use href="#s111" x="162"/><use href="#s114" x="168"/><use href="#s116" x="174"/><use href="#s105" x="180"/><use href="#s117" x="186"/><use href="#s109" x="192"/><use href="#s80" x="198"/><use href="#s105" x="204"/><use href="#s108" x="210"/><use href="#s111" x="216"/><use href="#s116" x="222"/><use href="#s80" x="228"/><use href="#s114" x="234"/><use href="#s111" x="240"/><use href="#s106" x="246"/><use href="#s101" x="252"/><use href="#s99" x="258"/><use href="#s116" x="264"/><use href="#s41" x="270"/></g>
<g transform="translate(860 385)"><use href="#s110" x="0"/><use href="#s115" x="6"/><use href="#s118" x="12"/><use href="#s49" x="18"/><use href="#s48" x="24"/></g>
<g transform="translate(249 406)"><use href="#s101" x="0"/><use href="#s115" x="6"/><use href="#s118" x="12"/><use href="#s51" x="18"/><use href="#s54" x="24"/><use href="#s56" x="30"/><use href="#s54" x="36"/><use href="#s54" x="42"/><use href="#s50" x="48"/><use href="#s51" x="54"/><use href="#s40" x="66"/><use href="#s66" x="72"/><use href="#s101" x="78"/><use href="#s115" x="84"/><use href="#s101" x="90"/><use href="#s110" x="96"/><use href="#s98" x="102"/><use href="#s97" x="108"/><use href="#s99" x="114"/><use href="#s104" x="120"/><use href="#s101" x="126"/><use href="#s114" x="132"/><use href="#s50" x="138"/><use href="#s48" x="144"/><use href="#s49" x="150"/><use href="#s53" x="156"/><use href="#s41" x="162"/></g>
<g transform="translate(446 406)"><use href="#s101" x="0"/><use href="#s115" x="6"/><use href="#s118" x="12"/><use href="#s51" x="18"/><use href="#s54" x="24"/><use href="#s54" x="30"/><use href="#s55" x="36"/><use href="#s51" x="42"/><use href="#s57" x="48"/><use href="#s52" x="54"/><use href="#s40" x="66"/><use href="#s66" x="72"/><use href="#s101" x="78"/><use href="#s115" x="84"/><use href="#s101" x="90"/><use href="#s110" x="96"/><use href="#s98" x="102"/><use href="#s97" x="108"/><use href="#s99" x="114"/><use href="#s104" x="120"/><use href="#s101" x="126"/><use href="#s114" x="132"/><use href="#s50" x="138"/><use href="#s48" x="144"/><use href="#s49" x="150"/><use href="#s53" x="156"/><use href="#s41" x="162"/></g>
<g transform="translate(634 406)"><use href="#s110" x="0"/><use href="#s115" x="6"/><use href="#s118" x="12"/><use href="#s52" x="18"/><use href="#s52" x="24"/><use href="#s57" x="30"/><use href="#s48" x="36"/><use href="#s48" x="42"/><use href="#s51" x="48"/><use href="#s57" x="54"/><use href="#s40" x="66"/><use href="#s103" x="72"/><use href="#s110" x="78"/><use href="#s111" x="84"/><use href="#s109" x="90"/><use href="#s65" x="96"/><use href="#s68" x="102"/><use href="#s83" x="108"/><use href="#s116" x="114"/><use href="#s114" x="120"/><use href="#s117" x="126"/><use href="#s99" x="132"/><use href="#s116" x="138"/><use href="#s117" x="144"/><use href="#s114" x="150"/><use href="#s97" x="156"/><use href="#s108" x="162"/><use href="#s86" x="168"/><use href="#s97" x="174"/><use href="#s114" x="180"/><use href="#s105" x="186"/><use href="#s97" x="192"/><use href="#s110" x="198"/><use href="#s116" x="204"/><use href="#s115" x="210"/><use href="#s41" x="216"/></g>
<g transform="translate(860 406)"><use href="#s100" x="0"/><use href="#s103" x="6"/><use href="#s118" x="12"/><use href="#s51" x="18"/><use href="#s51" x="24"/></g>
<g transform="translate(381 427)"><use href="#s110" x="0"/><use href="#s115" x="6"/><use href="#s118" x="12"/><use href="#s52" x="18"/><use href="#s53" x="24"/><use href="#s52" x="30"/><use href="#s57" x="36"/><use href="#s57" x="42"/><use href="#s52" x="48"/><use href="#s50" x="54"/><use href="#s40" x="66"/><use href="#s103" x="72"/><use href="#s110" x="78"/><use href="#s111" x="84"/><use href="#s109" x="90"/><use href="#s65" x="96"/><use href="#s68" x="102"/><use href="#s83" x="108"/><use href="#s116" x="114"/><use href="#s114" x="120"/><use href="#s117" x="126"/><use href="#s99" x="132"/><use href="#s116" x="138"/><use href="#s117" x="144"/><use href="#s114" x="150"/><use href="#s97" x="156"/><use href="#s108" x="162"/><use href="#s86" x="168"/><use href="#s97" x="174"/><use href="#s114" x="180"/><use href="#s105" x="186"/><use href="#s97" x="192"/><use href="#s110" x="198"/><use href="#s116" x="204"/><use href="#s115" x="210"/><use href="#s41" x="216"/></g>
<g transform="translate(642 427)"><use href="#s110" x="0"/><use href="#s115" x="6"/><use href="#s118" x="12"/><use href="#s52" x="18"/><use href="#s49" x="24"/><use href="#s51" x="30"/><use href="#s51" x="36"/><use href="#s54" x="42"/><use href="#s49" x="48"/><use href="#s51" x="54"/><use href="#s40" x="66"/><use href="#s103" x="72"/><use href="#s110" x="78"/><use href="#s111" x="84"/><use href="#s109" x="90"/><use href="#s65" x="96"/><use href="#s68" x="102"/><use href="#s83" x="108"/><use href="#s116" x="114"/><use href="#s114" x="120"/><use href="#s117" x="126"/><use href="#s99" x="132"/><use href="#s116" x="138"/><use href="#s117" x="144"/><use href="#s114" x="150"/><use href="#s97" x="156"/><use href="#s108" x="162"/><use href="#s86" x="168"/><use href="#s97" x="174"/><use href="#s114" x="180"/><use href="#s105" x="186"/><use href="#s97" x="192"/><use href="#s110" x="198"/><use href="#s116" x="204"/><use href="#s115" x="210"/><use href="#s41" x="216"/></g>
<g transform="translate(409 448)"><use href="#s101" x="0"/><use href="#s115" x="6"/><use href="#s118" x="12"/><use href="#s49" x="18"/><use href="#s48" x="24"/><use href="#s48" x="30"/><use href="#s50" x="36"/><use href="#s54" x="42"/><use href="#s53" x="48"/><use href="#s57" x="54"/><use href="#s40" x="66"/><use href="#s80" x="72"/><use href="#s97" x="78"/><use href="#s110" x="84"/><use href="#s103" x="90"/><use href="#s50" x="96"/><use href="#s48" x="102"/><use href="#s49" x="108"/><use href="#s48" x="114"/><use href="#s41" x="120"/></g>
<g transform="translate(552 448)"><use href="#s100" x="0"/><use href="#s103" x="6"/><use href="#s118" x="12"/><use href="#s53" x="18"/><use href="#s57" x="24"/><use href="#s54" x="30"/><use href="#s55" x="36"/><use href="#s110" x="42"/><use href="#s49" x="48"/><use href="#s48" x="54"/><use href="#s48" x="60"/><use href="#s40" x="72"/><use href="#s67" x="78"/><use href="#s111" x="84"/><use href="#s101" x="90"/><use href="#s50" x="96"/><use href="#s48" x="102"/><use href="#s49" x="108"/><use href="#s52" x="114"/><use href="#s41" x="120"/></g>
<g transform="translate(502 469)"><use href="#s110" x="0"/><use href="#s115" x="6"/><use href="#s118" x="12"/><use href="#s52" x="18"/><use href="#s55" x="24"/><use href="#s48" x="30"/><use href="#s56" x="36"/><use href="#s50" x="42"/><use href="#s48" x="48"/><use href="#s40" x="60"/><use href="#s74" x="66"/><use href="#s97" x="72"/><use href="#s107" x="78"/><use href="#s111" x="84"/><use href="#s98" x="90"/><use href="#s115" x="96"/><use href="#s115" x="102"/><use href="#s111" x="108"/><use href="#s110" x="114"/><use href="#s50" x="120"/><use href="#s48" x="126"/><use href="#s48" x="132"/><use href="#s56" x="138"/><use href="#s41" x="144"/></g>
<g transform="translate(515 490)"><use href="#s100" x="0"/><use href="#s103" x="6"/><use href="#s118" x="12"/><use href="#s51" x="18"/><use href="#s51" x="24"/><use href="#s50" x="30"/><use href="#s49" x="36"/><use href="#s110" x="42"/><use href="#s49" x="48"/><use href="#s48" x="54"/><use href="#s54" x="60"/><use href="#s40" x="72"/><use href="#s65" x="78"/><use href="#s108" x="84"/><use href="#s115" x="90"/><use href="#s109" x="96"/><use href="#s97" x="102"/><use href="#s100" x="108"/><use href="#s105" x="114"/><use href="#s50" x="120"/><use href="#s48" x="126"/><use href="#s49" x="132"/><use href="#s52" x="138"/><use href="#s41" x="144"/></g>
<g transform="translate(552 511)"><use href="#s100" x="0"/><use href="#s103" x="6"/><use href="#s118" x="12"/><use href="#s53" x="18"/><use href="#s57" x="24"/><use href="#s54" x="30"/><use href="#s56" x="36"/><use href="#s110" x="42"/><use href="#s49" x="48"/><use href="#s48" x="54"/><use href="#s48" x="60"/><use href="#s40" x="72"/><use href="#s67" x="78"/><use href="#s111" x="84"/><use href="#s101" x="90"/><use href="#s50" x="96"/><use href="#s48" x="102"/><use href="#s49" x="108"/><use href="#s52" x="114"/><use href="#s41" x="120"/></g>
<g transform="translate(60 567)"><use href="#b82" x="0"/><use href="#b101" x="7"/><use href="#b102" x="14"/><use href="#b83" x="21"/><use href="#b101" x="28"/><use href="#b113" x="35"/><use href="#b71" x="49"/><use href="#b101" x="56"/><use href="#b110" x="63"/><use href="#b101" x="70"/><use href="#b115" x="77"/></g>
<g transform="translate(61 579)"><use href="#s80" x="0"/><use href="#s82" x="6"/><use href="#s73" x="12"/><use href="#s77" x="18"/><use href="#s50" x="24"/><use href="#s124" x="30"/><use href="#s78" x="36"/><use href="#s77" x="42"/><use href="#s95" x="48"/><use href="#s48" x="54"/><use href="#s48" x="60"/><use href="#s48" x="66"/><use href="#s57" x="72"/><use href="#s52" x="78"/><use href="#s55" x="84"/></g>
</g>
<g id="labels">
<text x="61" y="25" font-size="10" textLength="138" lengthAdjust="spacingAndGlyphs">chr6:57340801..57374302</text>
<text x="262" y="44" font-size="10" textLength="36" lengthAdjust="spacingAndGlyphs">57350k</text>
<text x="500" y="44" font-size="10" textLength="36" lengthAdjust="spacingAndGlyphs">57360k</text>
<text x="739" y="44" font-size="10" textLength="36" lengthAdjust="spacingAndGlyphs">57370k</text>
<text x="60" y="78" font-size="11.667" font-weight="bold" textLength="119" lengthAdjust="spacingAndGlyphs">Cytogenetic Bands</text>
<text x="61" y="90" font-size="10" textLength="36" lengthAdjust="spacingAndGlyphs">6p11.2</text>
<text x="60" y="132" font-size="11.667" font-weight="bold" textLength="161" lengthAdjust="spacingAndGlyphs">DGV Structural Variants</text>
<text x="61" y="144" font-size="10" textLength="240" lengthAdjust="spacingAndGlyphs">esv3609117 (1000GenomesConsortiumPhase3)</text>
<text x="333" y="144" font-size="10" textLength="144" lengthAdjust="spacingAndGlyphs">nsv1137083 (Alsmadi2014)</text>
<text x="501" y="144" font-size="10" textLength="222" lengthAdjust="spacingAndGlyphs">nsv4486285 (gnomADStructuralVariants)</text>
<text x="835" y="144" font-size="10" textLength="222" lengthAdjust="spacingAndGlyphs">nsv4540413 (gnomADStructuralVariants)</text>
<text x="61" y="165" font-size="10" textLength="132" lengthAdjust="spacingAndGlyphs">esv2759432 (Redon2006)</text>
<text x="61" y="186" font-size="10" textLength="150" lengthAdjust="spacingAndGlyphs">dgv3320n106 (Alsmadi2014)</text>
<text x="61" y="207" font-size="10" textLength="126" lengthAdjust="spacingAndGlyphs">nsv1150365 (John2014)</text>
<text x="62" y="228" font-size="10" textLength="144" lengthAdjust="spacingAndGlyphs">nsv1077472 (Thareja2015)</text>
<text x="65" y="249" font-size="10" textLength="126" lengthAdjust="spacingAndGlyphs">nsv950183 (Dogan2014)</text>
<text x="66" y="270" font-size="10" textLength="246" lengthAdjust="spacingAndGlyphs">dgv1184e214 (1000GenomesConsortiumPhase3)</text>
<text x="68" y="291" font-size="10" textLength="144" lengthAdjust="spacingAndGlyphs">dgv10677n54 (Cooper2011)</text>
<text x="70" y="312" font-size="10" textLength="138" lengthAdjust="spacingAndGlyphs">nsv970125 (Sudmant2013)</text>
<text x="70" y="333" font-size="10" textLength="138" lengthAdjust="spacingAndGlyphs">nsv3396896 (Audano2019)</text>
<text x="367" y="333" font-size="10" textLength="132" lengthAdjust="spacingAndGlyphs">nsv603193 (Cooper2011)</text>
<text x="93" y="354" font-size="10" textLength="150" lengthAdjust="spacingAndGlyphs">esv2453782 (McKernan2009)</text>
<text x="126" y="375" font-size="10" textLength="222" lengthAdjust="spacingAndGlyphs">nsv4140323 (gnomADStructuralVariants)</text>
<text x="377" y="375" font-size="10" textLength="276" lengthAdjust="spacingAndGlyphs">esv3309145 (1000GenomesConsortiumPilotProject)</text>
<text x="859" y="375" font-size="10" textLength="240" lengthAdjust="spacingAndGlyphs">esv3535421 (1000GenomesConsortiumPhase3)</text>
<text x="134" y="396" font-size="10" textLength="222" lengthAdjust="spacingAndGlyphs">nsv4149825 (gnomADStructuralVariants)</text>
<text x="378" y="396" font-size="10" textLength="276" lengthAdjust="spacingAndGlyphs">esv3327194 (1000GenomesConsortiumPilotProject)</text>
<text x="860" y="396" font-size="10" textLength="144" lengthAdjust="spacingAndGlyphs">nsv1077473 (Thareja2015)</text>
<text x="249" y="417" font-size="10" textLength="168" lengthAdjust="spacingAndGlyphs">esv3686623 (Besenbacher2015)</text>
<text x="446" y="417" font-size="10" textLength="168" lengthAdjust="spacingAndGlyphs">esv3667394 (Besenbacher2015)</text>
<text x="634" y="417" font-size="10" textLength="222" lengthAdjust="spacingAndGlyphs">nsv4490039 (gnomADStructuralVariants)</text>
<text x="860" y="417" font-size="10" textLength="150" lengthAdjust="spacingAndGlyphs">dgv3322n106 (Alsmadi2014)</text>
<text x="381" y="438" font-size="10" textLength="222" lengthAdjust="spacingAndGlyphs">nsv4549942 (gnomADStructuralVariants)</text>
<text x="642" y="438" font-size="10" textLength="222" lengthAdjust="spacingAndGlyphs">nsv4133613 (gnomADStructuralVariants)</text>
<text x="409" y="459" font-size="10" textLength="126" lengthAdjust="spacingAndGlyphs">esv1002659 (Pang2010)</text>
<text x="552" y="459" font-size="10" textLength="126" lengthAdjust="spacingAndGlyphs">dgv5967n100 (Coe2014)</text>
<text x="502" y="480" font-size="10" textLength="150" lengthAdjust="spacingAndGlyphs">nsv470820 (Jakobsson2008)</text>
<text x="515" y="501" font-size="10" textLength="150" lengthAdjust="spacingAndGlyphs">dgv3321n106 (Alsmadi2014)</text>
<text x="552" y="522" font-size="10" textLength="126" lengthAdjust="spacingAndGlyphs">dgv5968n100 (Coe2014)</text>
<text x="60" y="578" font-size="11.667" font-weight="bold" textLength="84" lengthAdjust="spacingAndGlyphs">RefSeq Genes</text>
<text x="61" y="590" font-size="10" textLength="90" lengthAdjust="spacingAndGlyphs">PRIM2|NM_000947</text>
</g>
</svg>
</body>
</html>
